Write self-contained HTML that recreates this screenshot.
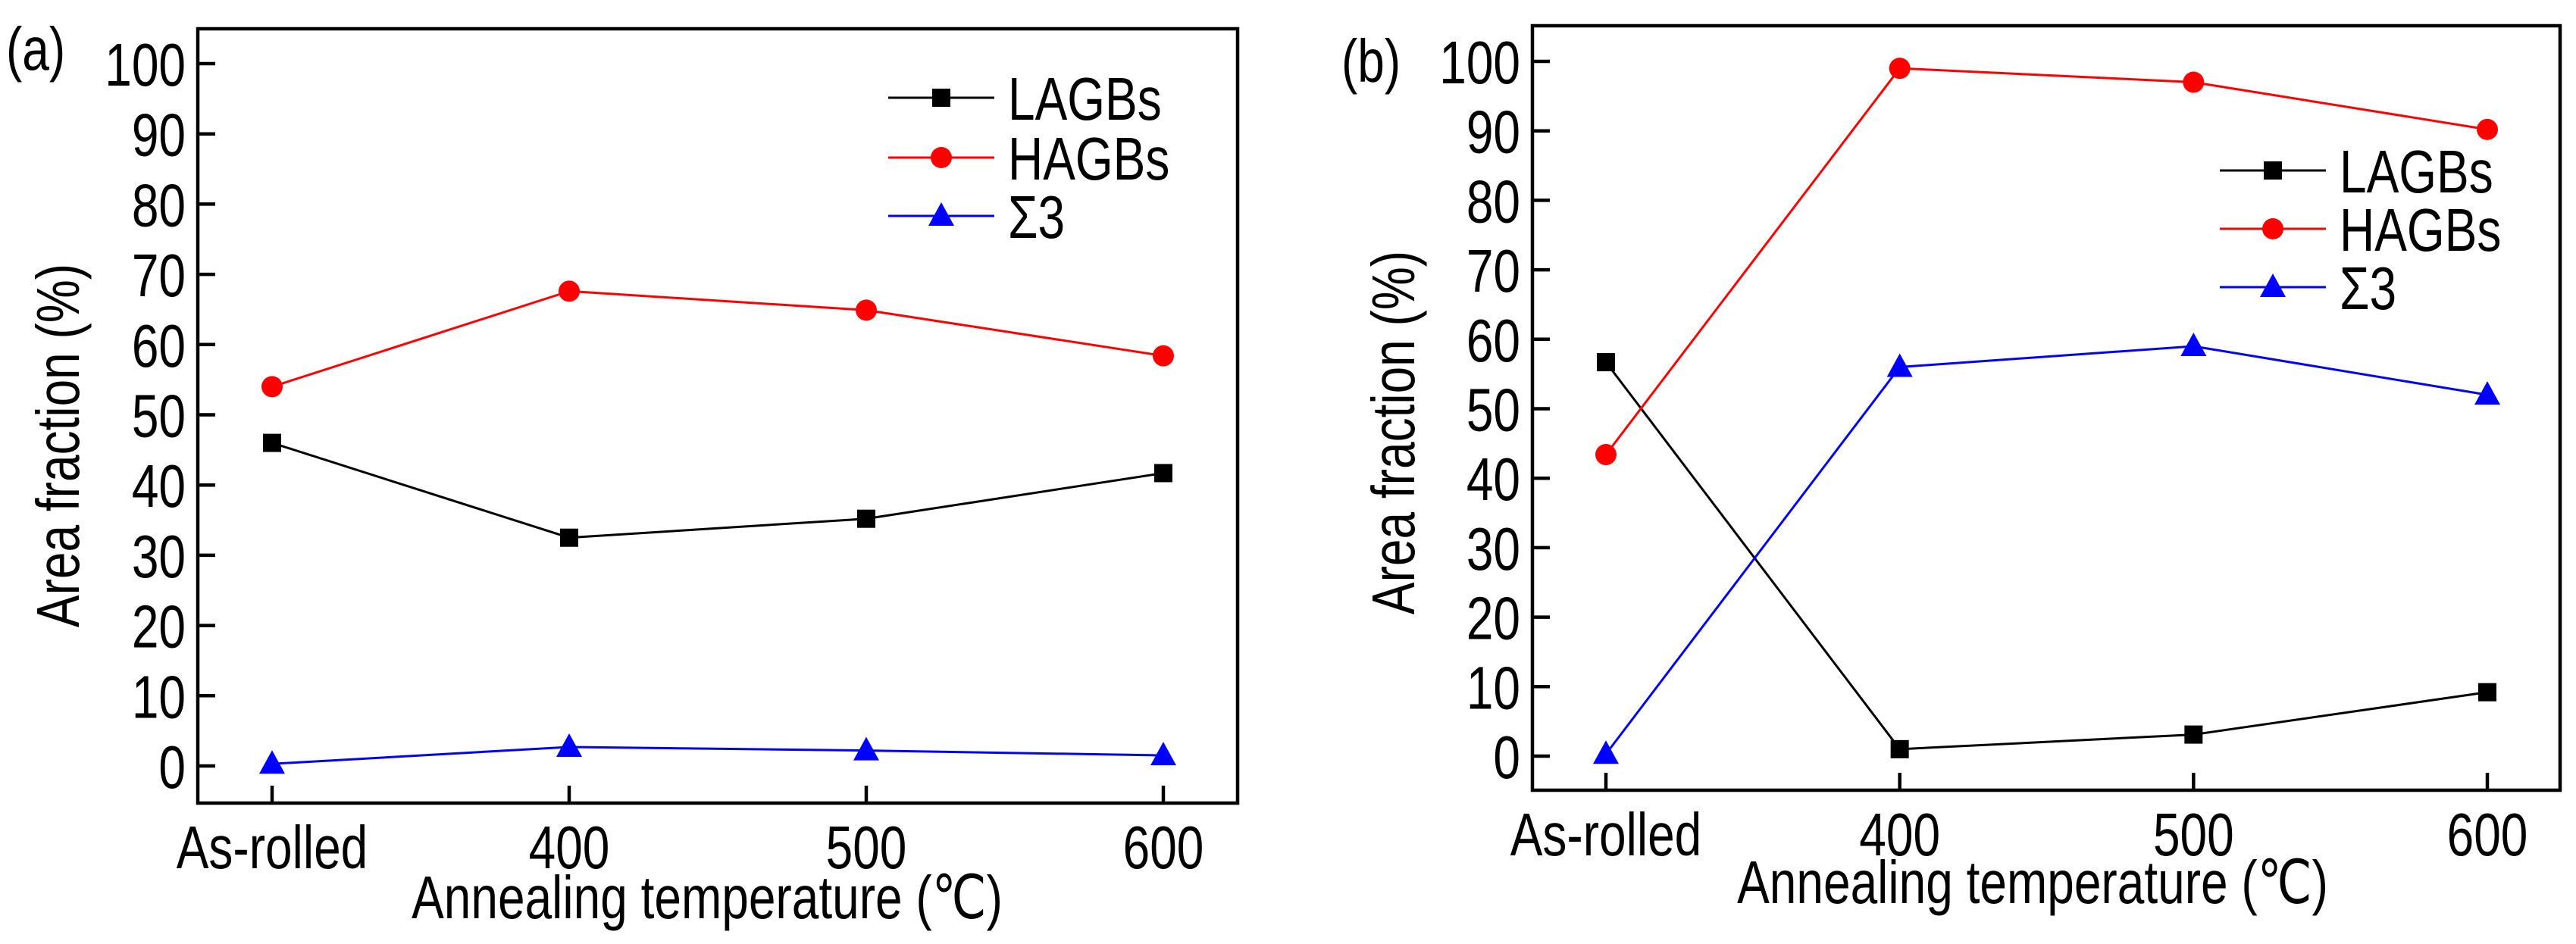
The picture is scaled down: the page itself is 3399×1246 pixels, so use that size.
<!DOCTYPE html>
<html><head><meta charset="utf-8"><style>
body{margin:0;background:#fff}
text{font-family:"Liberation Sans",sans-serif;fill:#000}
</style></head><body>
<svg id="fig" width="3399" height="1241" viewBox="0 0 3399 1241" xmlns="http://www.w3.org/2000/svg"></svg>
<script>
const categories = ["As-rolled","400","500","600"];
const yTicks = [0,10,20,30,40,50,60,70,80,90,100];
const seriesNames = ["LAGBs","HAGBs","Σ3"];
const aLAGBs = [46,32.5,35.2,41.7];
const aHAGBs = [54,67.6,64.9,58.4];
const aSigma3 = [0.3,2.7,2.2,1.5];
const bLAGBs = [56.7,1.0,3.1,9.2];
const bHAGBs = [43.4,99.0,97.0,90.2];
const bSigma3 = [0.3,56.0,59.0,52.0];

const NS="http://www.w3.org/2000/svg";
const svg=document.getElementById('fig');
function mk(tag,attrs,parent){const e=document.createElementNS(NS,tag);for(const k in attrs)e.setAttribute(k,attrs[k]);(parent||svg).appendChild(e);return e;}
function txt(g,x,y,s,anchor,rot){
  const t=mk('text',{x:0,y:0,'font-size':80,'text-anchor':anchor||'start',
    transform:`translate(${x},${y})${rot?' rotate(-90)':''} scale(0.8,1)`},g);
  t.textContent=s;return t;
}
const colors=["#000","#f00","#00f"];

function marker(g,type,x,y,c){
  let m;
  if(type===0){m=mk('rect',{x:x-12,y:y-12,width:24,height:24,fill:c},g);}
  else if(type===1){m=mk('circle',{cx:x,cy:y,r:14,fill:c},g);}
  else {m=mk('polygon',{points:`${x},${y-18} ${x-17},${y+13} ${x+17},${y+13}`,fill:c},g);}
  return m;
}

function panel(p){
  const g=mk('g',{});
  
  
  const xs=i=>p.x0+(p.x3-p.x0)*i/3;
  const ys=v=>p.y0+(p.y100-p.y0)*v/100;
  const box=mk('rect',{x:p.L,y:p.T,width:p.R-p.L,height:p.B-p.T,fill:'none',stroke:'#000','stroke-width':4.5},g);
  
  
  yTicks.forEach(v=>{
    const t=mk('line',{x1:p.L,x2:p.L+23,y1:ys(v),y2:ys(v),stroke:'#000','stroke-width':4.5},g);
    
    
    const l=txt(g,p.L-16,ys(v)+29,String(v),'end');
    
    
  });
  categories.forEach((c,i)=>{
    const t=mk('line',{x1:xs(i),x2:xs(i),y1:p.B,y2:p.B-23,stroke:'#000','stroke-width':4.5},g);
    
    
    const l=txt(g,xs(i),p.B+86,c,'middle');
    
    
  });
  const yt=txt(g,p.ytx,p.yty,'Area fraction (%)','middle',true);
  
  
  const xt=txt(g,p.xtx,p.xty,'Annealing temperature (℃)','middle');
  
  
  const pl=txt(g,p.lbx,p.lby,p.label,'start');
  
  
  p.series.forEach((s,k)=>{
    const pts=s.map((v,i)=>xs(i)+','+ys(v)).join(' ');
    const ln=mk('polyline',{points:pts,fill:'none',stroke:colors[k],'stroke-width':3},g);
    
    
    s.forEach((v,i)=>{
      const m=marker(g,k,xs(i),ys(v),colors[k]);
      
      
    });
    const ly=p.legY[k];
    const ll=mk('line',{x1:p.legX,x2:p.legX+140,y1:ly,y2:ly,stroke:colors[k],'stroke-width':3},g);
    
    
    const lm=marker(g,k,p.legX+70,ly,colors[k]);
    
    
    const lt=txt(g,p.legX+158,ly+29,seriesNames[k],'start');
    
    
  });
}

panel({name:'panel-a',label:'(a)',L:261,R:1633,T:38,B:1060,x0:359,x3:1535,y0:1011,y100:84,
  ytx:104,yty:588,xtx:933,xty:1212,lbx:8,lby:92,legX:1172,legY:[129,208,285],
  series:[aLAGBs,aHAGBs,aSigma3]});
panel({name:'panel-b',label:'(b)',L:2022,R:3378,T:34,B:1043,x0:2119,x3:3282,y0:998,y100:81,
  ytx:1866,yty:571,xtx:2682,xty:1192,lbx:1770,lby:108,legX:2929,legY:[225,302,379],
  series:[bLAGBs,bHAGBs,bSigma3]});
</script>
</body></html>
